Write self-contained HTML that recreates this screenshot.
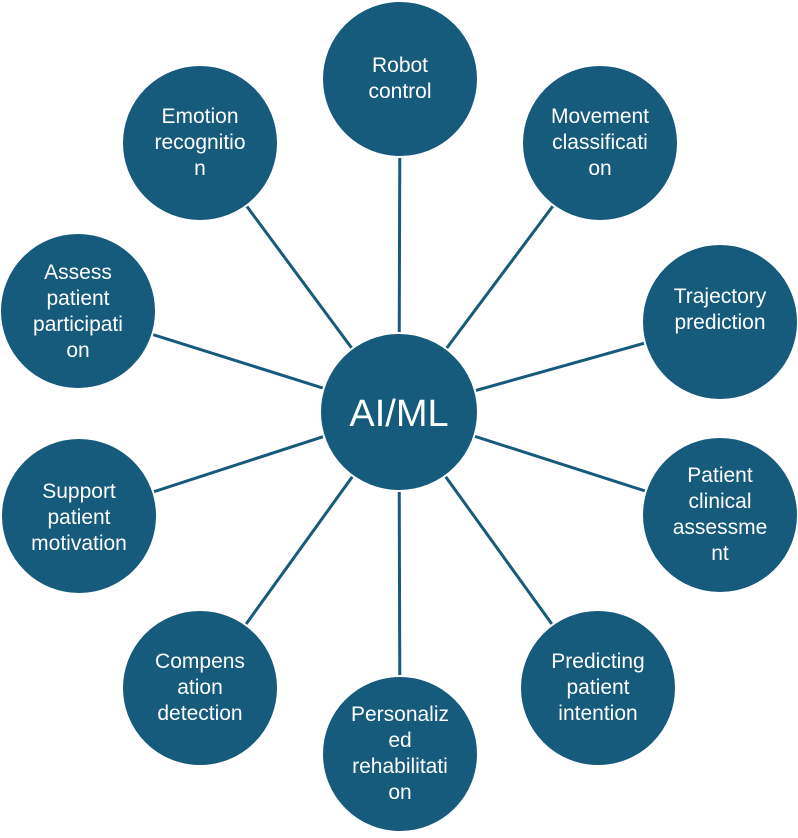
<!DOCTYPE html>
<html><head><meta charset="utf-8"><style>
html,body{margin:0;padding:0;background:#fff;}
svg text{font-family:"Liberation Sans",sans-serif;fill:#fff;text-anchor:middle;}
</style></head><body>
<svg width="798" height="833" viewBox="0 0 798 833" xmlns="http://www.w3.org/2000/svg">
<g stroke="#165a7c" stroke-width="3">
<line x1="399" y1="412" x2="400" y2="80"/>
<line x1="399" y1="412" x2="600" y2="143"/>
<line x1="399" y1="412" x2="720" y2="322"/>
<line x1="399" y1="412" x2="720" y2="515"/>
<line x1="399" y1="412" x2="598" y2="688"/>
<line x1="399" y1="412" x2="400" y2="755"/>
<line x1="399" y1="412" x2="200" y2="688"/>
<line x1="399" y1="412" x2="79" y2="516"/>
<line x1="399" y1="412" x2="78" y2="311"/>
<line x1="399" y1="412" x2="200" y2="143"/>
</g>
<g fill="#165a7c" stroke="#fff" stroke-width="2">
<circle cx="399" cy="412" r="79"/>
<circle cx="400" cy="79" r="78"/>
<circle cx="600" cy="143" r="78"/>
<circle cx="720" cy="322" r="78"/>
<circle cx="720" cy="515" r="78"/>
<circle cx="598" cy="688" r="78"/>
<circle cx="400" cy="754" r="78"/>
<circle cx="200" cy="688" r="78"/>
<circle cx="79" cy="516" r="78"/>
<circle cx="78" cy="311" r="78"/>
<circle cx="200" cy="143" r="78"/>
</g>
<g font-size="21">
<text x="399" y="426" font-size="38">AI/ML</text>
<text x="400" y="72">Robot</text><text x="400" y="98">control</text>
<text x="600" y="123">Movement</text><text x="600" y="149">classificati</text><text x="600" y="175">on</text>
<text x="720" y="303">Trajectory</text><text x="720" y="329">prediction</text>
<text x="720" y="482">Patient</text><text x="720" y="508">clinical</text><text x="720" y="534">assessme</text><text x="720" y="560">nt</text>
<text x="598" y="668">Predicting</text><text x="598" y="694">patient</text><text x="598" y="720">intention</text>
<text x="400" y="721">Personaliz</text><text x="400" y="747">ed</text><text x="400" y="773">rehabilitati</text><text x="400" y="799">on</text>
<text x="200" y="668">Compens</text><text x="200" y="694">ation</text><text x="200" y="720">detection</text>
<text x="79" y="498">Support</text><text x="79" y="524">patient</text><text x="79" y="550">motivation</text>
<text x="78" y="279">Assess</text><text x="78" y="305">patient</text><text x="78" y="331">participati</text><text x="78" y="357">on</text>
<text x="200" y="123">Emotion</text><text x="200" y="149">recognitio</text><text x="200" y="175">n</text>
</g>
</svg>
</body></html>
